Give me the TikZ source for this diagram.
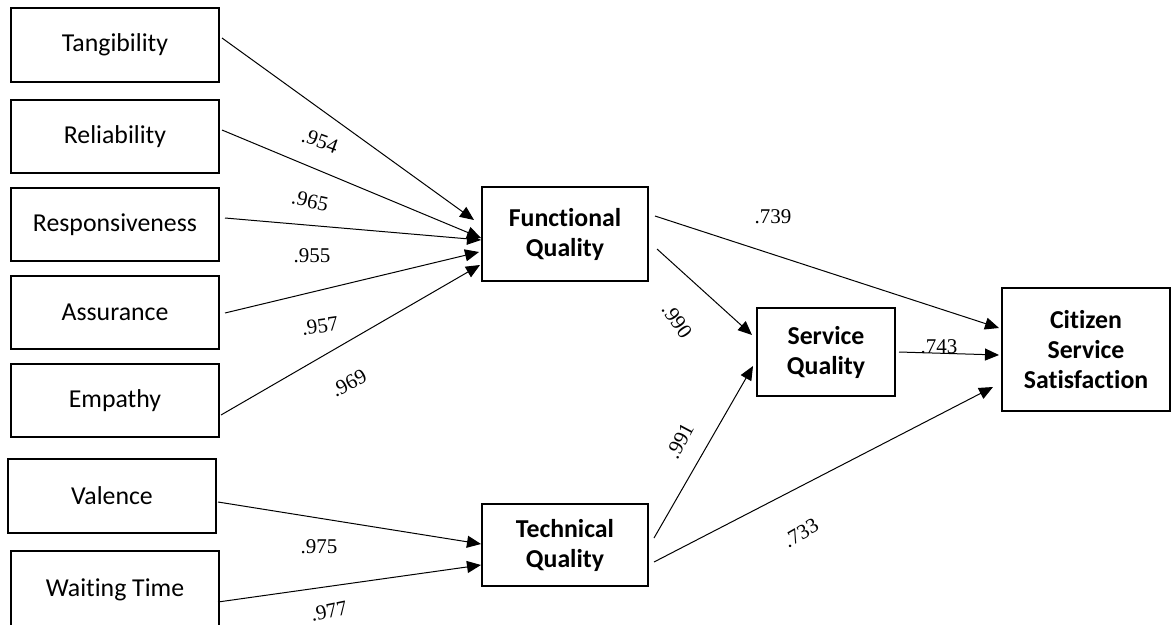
\documentclass[tikz,border=0pt]{standalone}
\usepackage{fontspec}
\setmainfont{Liberation Serif}
\newfontfamily\boxfont[Ligatures={NoCommon,NoRare,NoContextual}]{Carlito}
\usetikzlibrary{arrows.meta,calc}
\begin{document}
\begin{tikzpicture}[x=1pt,y=-1pt,
  box/.style={draw, line width=2pt, inner sep=0pt, align=center,
    font=\boxfont\fontsize{25.8}{30}\selectfont},
  bbox/.style={box, font=\boxfont\bfseries\fontsize{25.8}{30}\selectfont},
  arr/.style={line width=1pt, -{Triangle[length=14pt,width=12pt]}},
  lab/.style={font=\fontsize{21}{23}\selectfont, inner sep=0pt}]
\clip (0,0) rectangle (1172,624);
\fill[white] (0,0) rectangle (1172,624);
% left boxes
\node[box, minimum width=208pt, minimum height=74pt] (tang) at (115,45) {Tangibility};
\node[box, minimum width=208pt, minimum height=73pt] (rel) at (115,136.5) {Reliability};
\node[box, minimum width=208pt, minimum height=73pt] (resp) at (115,224.5) {Responsiveness};
\node[box, minimum width=208pt, minimum height=73pt] (assu) at (115,312.5) {Assurance};
\node[box, minimum width=208pt, minimum height=73pt] (emp) at (115,400.5) {Empathy};
\node[box, minimum width=208pt, minimum height=74pt] (val) at (112,496) {Valence};
\node[box, minimum width=208pt, minimum height=77pt] (wait) at (115,589.5) {Waiting Time};
% middle and right boxes
\node[bbox, minimum width=166pt, minimum height=94pt] (fq) at (565,234) {Functional\\Quality};
\node[bbox, minimum width=166pt, minimum height=82pt] (tq) at (565,545) {Technical\\Quality};
\node[bbox, minimum width=138pt, minimum height=88pt] (sq) at (826,352) {Service\\Quality};
\node[bbox, minimum width=168pt, minimum height=123pt] (css) at (1086,349.5) {Citizen\\Service\\Satisfaction};
% connectors
\draw[arr] ($(tang.east)+(2,-7)$) -- ($(fq.west)+(-7,-14)$);
\draw[arr] ($(rel.east)+(2,-6.5)$) -- ($(fq.west)+(0,4)$);
\draw[arr] ($(resp.east)+(5,-6.5)$) -- ($(fq.west)+(0,6)$);
\draw[arr] ($(assu.east)+(5,0.5)$) -- ($(fq.west)+(-2,18)$);
\draw[arr] ($(emp.east)+(1,14.5)$) -- ($(fq.west)+(-1,31)$);
\draw[arr] ($(val.east)+(1,6)$) -- ($(tq.west)+(0,-1)$);
\draw[arr] ($(wait.east)+(-2,12.5)$) -- ($(tq.west)+(0,20)$);
\draw[arr] ($(fq.east)+(6,-18)$) -- ($(css.west)+(-2,-21.5)$);
\draw[arr] ($(fq.east)+(8,15)$) -- ($(sq.west)+(-4,-17)$);
\draw[arr] ($(tq.east)+(5,-7)$) -- ($(sq.west)+(-3,14)$);
\draw[arr] ($(tq.east)+(5,17)$) -- ($(css.west)+(-8,37.5)$);
\draw[arr] ($(sq.east)+(3,0)$) -- ($(css.west)+(-2,5.5)$);
% labels
\node[lab, rotate=-20] (l954) at (320,141) {.954};
\node[lab, rotate=-12] (l965) at (310,201) {.965};
\node[lab] (l955) at (312,256) {.955};
\node[lab, rotate=8] (l957) at (320,326) {.957};
\node[lab, rotate=28] (l969) at (349,383) {.969};
\node[lab] (l975) at (319,547) {.975};
\node[lab, rotate=12] (l977) at (329,611) {.977};
\node[lab] (l739) at (773,217) {.739};
\node[lab, rotate=-55] (l990) at (677,321) {.990};
\node[lab, rotate=62] (l991) at (680,441) {.991};
\node[lab, rotate=30] (l733) at (801,533) {.733};
\node[lab] (l743) at (939,347) {.743};
\end{tikzpicture}
\end{document}
